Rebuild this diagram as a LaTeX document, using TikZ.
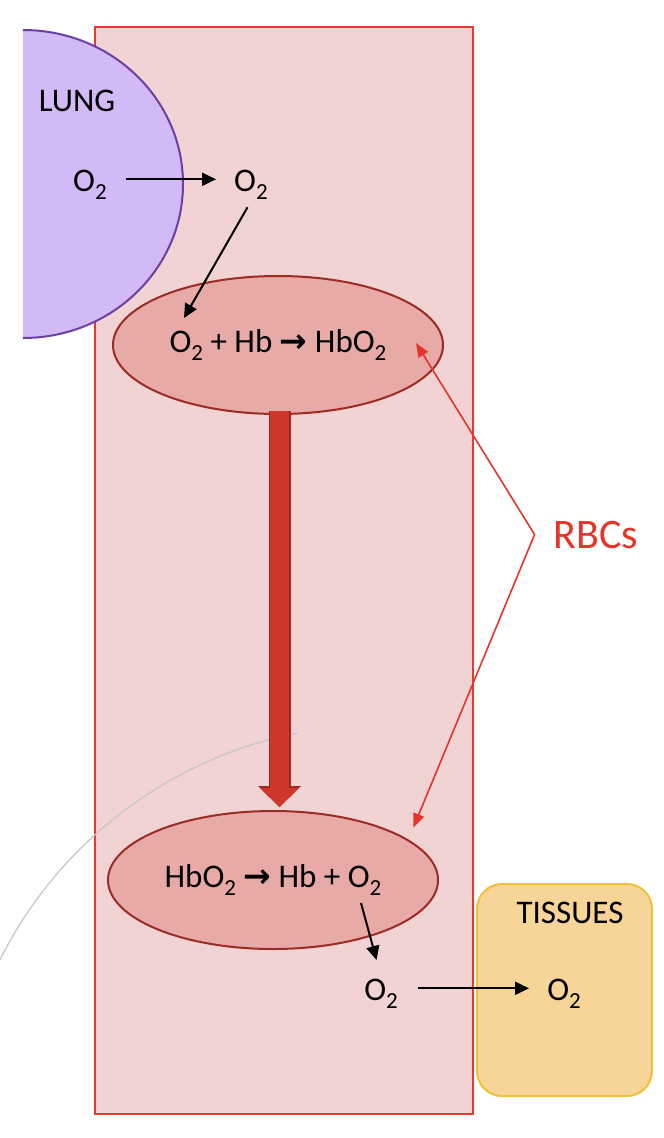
\documentclass[tikz,border=0pt]{standalone}
\usepackage{fontspec}
\setmainfont{Carlito}
\newfontfamily\arrowfont{DejaVu Sans}
\usetikzlibrary{arrows.meta,shapes.geometric,calc}

\definecolor{vesselfill}{HTML}{F2D3D3}
\definecolor{vesselline}{HTML}{E33B30}
\definecolor{cellfill}{HTML}{E8AAA6}
\definecolor{cellline}{HTML}{9C2B23}
\definecolor{flowfill}{HTML}{D0372C}
\definecolor{flowline}{HTML}{A2281F}
\definecolor{lungfill}{HTML}{D2BAF7}
\definecolor{lungline}{HTML}{6B3FA3}
\definecolor{tissuefill}{HTML}{F7D498}
\definecolor{tissueline}{HTML}{F2C03A}
\definecolor{rbcred}{HTML}{E5352B}
\definecolor{arcgrey}{HTML}{C6C6C6}

\newcommand{\sub}[1]{\raisebox{-8pt}{\fontsize{23}{23}\selectfont #1}}
\newcommand{\oxy}{O\sub{2}}
\newcommand{\yields}{{\arrowfont\bfseries →}}

\begin{document}
\begin{tikzpicture}[x=1pt,y=-1pt]
  \tikzset{label/.style = {font=\fontsize{33}{39}\selectfont, inner sep=2pt}}
  \tikzset{cell/.style = {shape=ellipse, draw=cellline, fill=cellfill, line width=2pt, minimum width=330pt, minimum height=138pt, inner sep=0pt, font=\fontsize{33}{39}\selectfont}}
  \tikzset{tissue/.style = {draw=tissueline, fill=tissuefill, line width=2pt, rounded corners=25pt, minimum width=175pt, minimum height=212pt, inner sep=0pt}}
  \tikzset{edge/.style = {-{Triangle[length=14pt,width=13pt]}, line width=2pt}}
  \tikzset{pointer/.style = {draw=rbcred, line width=1.6pt, {Triangle[length=14pt,width=11pt]}-{Triangle[length=14pt,width=11pt]}}}
  \tikzset{flow/.style = {draw=flowfill, line width=19pt, -{Triangle[length=19pt,width=39pt,line width=0pt]},
      preaction={draw=flowline, line width=22pt, -{Triangle[length=21pt,width=43pt,line width=0pt]}}}}

  \useasboundingbox (0,0) rectangle (664,1138);

  % blood vessel
  \draw[vesselline, fill=vesselfill, line width=2pt] (95,27) rectangle (473,1114);
  % lung
  \fill[lungfill] (23,30) arc[start angle=-90, end angle=90, x radius=160, y radius=154] -- cycle;
  \draw[lungline, line width=2pt] (23,30) arc[start angle=-90, end angle=90, x radius=160, y radius=154];
  % faint arc
  \draw[arcgrey, line width=1.2pt] (380,1150) ++(258.8:425) arc[start angle=258.8, end angle=206, radius=425];

  \node[cell] (take) at (278,345) {\oxy{} + Hb \yields{} Hb\oxy};
  \node[cell] (give) at (273,880) {Hb\oxy{} \yields{} Hb + \oxy};
  \node[tissue] (tissues) at (564.5,990) {};

  \node[label, anchor=base] (lungname) at (77,111) {LUNG};
  \node[label, anchor=base] (lungO) at (90,191) {\oxy};
  \node[label, anchor=base] (bloodO) at (251,191) {\oxy};
  \node[label, anchor=base] (freeO) at (381,1000) {\oxy};
  \node[label, anchor=base] (tissueO) at (564,1000) {\oxy};
  \node[label, anchor=base] (tissuename) at (570,923) {TISSUES};
  \node[label, anchor=base, text=rbcred, font=\fontsize{42}{50}\selectfont] (rbc) at (596,548) {RBCs};

  \coordinate (entry) at (184,318);
  \coordinate (exit) at (361,903);
  \coordinate (fork) at ([xshift=-17pt]rbc.west);

  \draw[flow] ($(take.south)+(1.5,-4)$) -- ($(take.south |- give.north)+(1.5,-3)$);

  \draw[edge, shorten <=17pt, shorten >=16pt] ([yshift=5pt]lungO.east) -- ([yshift=5pt]bloodO.west);
  \draw[edge, shorten <=7pt] (bloodO.south) -- (entry);
  \draw[edge, shorten >=17pt] (exit) -- (freeO.north);
  \draw[edge, shorten <=18pt, shorten >=16pt] ([yshift=5pt]freeO.east) -- ([yshift=5pt]tissueO.west);

  \draw[pointer] ([xshift=-28pt,yshift=2pt]take.east) -- (fork) -- ([xshift=23pt,yshift=3pt]give.north east);
\end{tikzpicture}
\end{document}
